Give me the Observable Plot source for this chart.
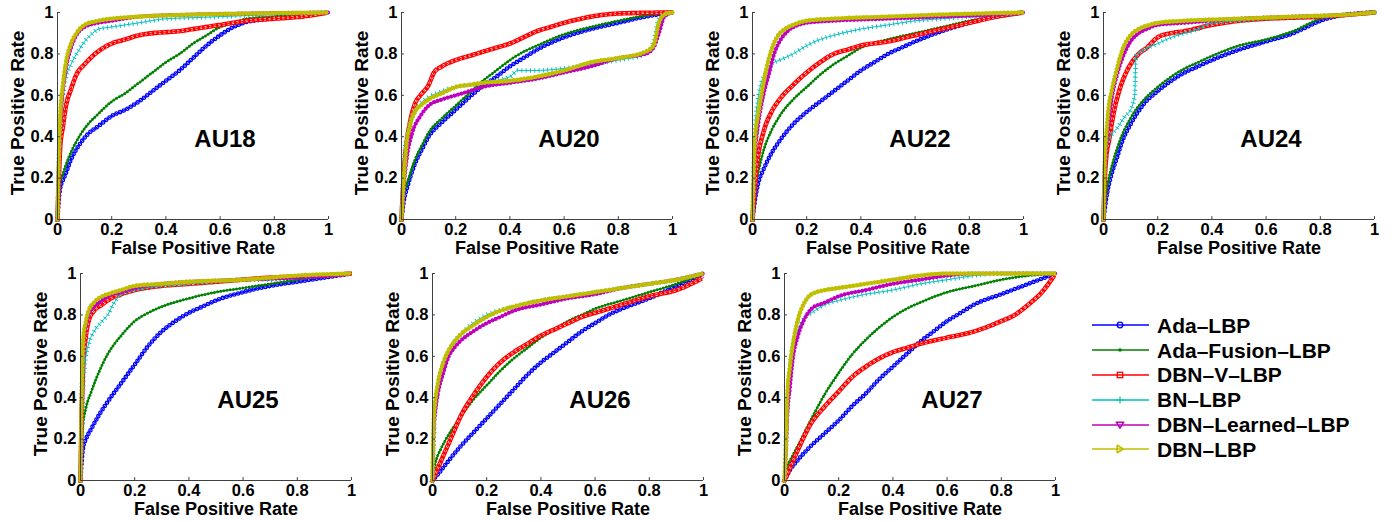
<!DOCTYPE html>
<html><head><meta charset="utf-8">
<script src="https://cdn.jsdelivr.net/npm/d3@7"></script>
<script src="https://cdn.jsdelivr.net/npm/@observablehq/plot@0.6"></script>
<style>
body{margin:0;background:#fff;}
#fig{position:relative;width:1398px;height:522px;overflow:hidden;background:#fff;font-family:"Liberation Sans",Arial,Helvetica,sans-serif;font-weight:bold;}
.panel{position:absolute;width:345px;height:265px;}
#legend{position:absolute;left:1090px;top:313px;}
.lrow{display:flex;align-items:center;height:24.8px;}
.lrow span{margin-left:7px;font-size:21px;font-weight:bold;color:#000;line-height:1;}
</style></head><body><div id="fig"><div id="legend"></div></div>
<script>
// ---------- data ----------
const seriesNames = ["Ada–LBP","Ada–Fusion–LBP","DBN–V–LBP","BN–LBP","DBN–Learned–LBP","DBN–LBP"];
const seriesColors = ["#0000ff","#008000","#ff0000","#00bfbf","#bf00bf","#bfbf00"];
const panelTitles = ["AU18","AU20","AU22","AU24","AU25","AU26","AU27"];
const xTicks = [0,0.2,0.4,0.6,0.8,1];
const yTicks = [0,0.2,0.4,0.6,0.8,1];
const tickLabels = ["0","0.2","0.4","0.6","0.8","1"];
const xLabel = "False Positive Rate";
const yLabel = "True Positive Rate";

const au18_ada = [[0,0],[0.005,0.1],[0.01,0.15],[0.02,0.19],[0.03,0.22],[0.05,0.29],[0.08,0.36],[0.11,0.41],[0.15,0.45],[0.2,0.5],[0.25,0.53],[0.3,0.57],[0.35,0.62],[0.4,0.67],[0.45,0.72],[0.5,0.78],[0.55,0.84],[0.6,0.89],[0.65,0.93],[0.7,0.955],[0.75,0.965],[0.8,0.975],[0.9,0.99],[1,1]];
const au18_fusion = [[0,0],[0.005,0.12],[0.01,0.18],[0.02,0.22],[0.03,0.26],[0.055,0.34],[0.08,0.4],[0.1,0.44],[0.15,0.51],[0.2,0.57],[0.25,0.61],[0.3,0.66],[0.35,0.71],[0.4,0.76],[0.45,0.8],[0.5,0.85],[0.55,0.89],[0.6,0.93],[0.65,0.95],[0.7,0.97],[0.8,0.98],[0.9,0.99],[1,1]];
const au18_dbnv = [[0,0],[0.005,0.2],[0.01,0.35],[0.02,0.45],[0.03,0.54],[0.05,0.63],[0.07,0.7],[0.1,0.75],[0.13,0.79],[0.17,0.83],[0.2,0.85],[0.25,0.87],[0.3,0.89],[0.35,0.9],[0.4,0.905],[0.45,0.91],[0.5,0.92],[0.6,0.94],[0.7,0.96],[0.8,0.97],[0.9,0.98],[1,1]];
const au18_bn = [[0,0],[0.005,0.3],[0.01,0.45],[0.02,0.6],[0.03,0.68],[0.05,0.75],[0.08,0.82],[0.1,0.86],[0.13,0.9],[0.15,0.92],[0.2,0.93],[0.3,0.95],[0.4,0.97],[0.5,0.975],[0.6,0.98],[0.8,0.99],[1,1]];
const au18_learned = [[0,0],[0.005,0.25],[0.01,0.45],[0.02,0.62],[0.03,0.72],[0.05,0.83],[0.07,0.89],[0.1,0.93],[0.15,0.95],[0.2,0.96],[0.3,0.98],[0.5,0.99],[0.7,0.995],[1,1]];
const au18_dbn = [[0,0],[0.005,0.3],[0.01,0.5],[0.02,0.65],[0.03,0.75],[0.05,0.85],[0.07,0.9],[0.1,0.94],[0.15,0.96],[0.2,0.97],[0.3,0.98],[0.5,0.99],[0.7,0.995],[1,1]];

const au20_ada = [[0,0],[0.01,0.1],[0.02,0.15],[0.05,0.27],[0.08,0.35],[0.1,0.4],[0.15,0.47],[0.2,0.53],[0.25,0.59],[0.3,0.645],[0.35,0.69],[0.4,0.74],[0.45,0.78],[0.5,0.82],[0.6,0.88],[0.7,0.92],[0.8,0.95],[0.9,0.98],[1,1]];
const au20_fusion = [[0,0],[0.01,0.13],[0.02,0.17],[0.05,0.29],[0.08,0.37],[0.1,0.42],[0.15,0.49],[0.2,0.55],[0.25,0.61],[0.3,0.67],[0.35,0.72],[0.4,0.77],[0.45,0.81],[0.5,0.84],[0.6,0.895],[0.7,0.93],[0.8,0.96],[0.9,0.985],[1,1]];
const au20_dbnv = [[0,0],[0.01,0.25],[0.02,0.38],[0.03,0.46],[0.05,0.56],[0.07,0.6],[0.1,0.65],[0.12,0.71],[0.15,0.74],[0.2,0.77],[0.25,0.79],[0.3,0.81],[0.35,0.83],[0.4,0.85],[0.45,0.88],[0.5,0.91],[0.55,0.93],[0.6,0.95],[0.7,0.98],[0.8,0.995],[1,1]];
const au20_bn = [[0,0],[0.01,0.3],[0.02,0.4],[0.04,0.5],[0.07,0.56],[0.1,0.59],[0.15,0.62],[0.2,0.64],[0.3,0.66],[0.4,0.69],[0.43,0.72],[0.5,0.72],[0.6,0.73],[0.7,0.75],[0.8,0.77],[0.9,0.8],[0.93,0.86],[0.95,0.97],[0.97,0.99],[1,1]];
const au20_learned = [[0,0],[0.01,0.18],[0.02,0.3],[0.04,0.42],[0.07,0.5],[0.1,0.55],[0.15,0.58],[0.2,0.6],[0.25,0.62],[0.3,0.64],[0.4,0.66],[0.5,0.68],[0.6,0.71],[0.7,0.74],[0.8,0.78],[0.9,0.8],[0.93,0.83],[0.95,0.9],[0.97,0.98],[1,1]];
const au20_dbn = [[0,0],[0.01,0.22],[0.02,0.38],[0.03,0.45],[0.05,0.52],[0.08,0.56],[0.1,0.58],[0.15,0.61],[0.2,0.64],[0.25,0.65],[0.3,0.66],[0.4,0.67],[0.5,0.69],[0.6,0.72],[0.7,0.76],[0.8,0.78],[0.9,0.81],[0.93,0.84],[0.95,0.95],[0.97,0.99],[1,1]];

const au22_ada = [[0,0],[0.01,0.1],[0.02,0.17],[0.04,0.24],[0.07,0.32],[0.1,0.38],[0.15,0.46],[0.2,0.52],[0.25,0.57],[0.3,0.62],[0.35,0.67],[0.4,0.72],[0.45,0.76],[0.5,0.8],[0.55,0.83],[0.6,0.86],[0.7,0.91],[0.8,0.95],[0.9,0.98],[1,1]];
const au22_fusion = [[0,0],[0.01,0.15],[0.02,0.22],[0.04,0.33],[0.07,0.43],[0.1,0.5],[0.15,0.58],[0.2,0.64],[0.25,0.7],[0.3,0.75],[0.35,0.79],[0.4,0.83],[0.5,0.87],[0.6,0.9],[0.7,0.93],[0.8,0.96],[0.9,0.98],[1,1]];
const au22_dbnv = [[0,0],[0.01,0.18],[0.02,0.3],[0.04,0.42],[0.07,0.52],[0.1,0.58],[0.15,0.65],[0.2,0.71],[0.25,0.76],[0.3,0.8],[0.35,0.82],[0.4,0.84],[0.5,0.86],[0.6,0.89],[0.7,0.92],[0.8,0.95],[0.9,0.98],[1,1]];
const au22_bn = [[0,0],[0.005,0.3],[0.01,0.45],[0.02,0.58],[0.03,0.65],[0.05,0.71],[0.07,0.75],[0.1,0.77],[0.15,0.8],[0.2,0.84],[0.25,0.87],[0.3,0.89],[0.4,0.92],[0.5,0.94],[0.6,0.96],[0.7,0.97],[0.8,0.98],[0.9,0.99],[1,1]];
const au22_learned = [[0,0],[0.005,0.2],[0.01,0.33],[0.02,0.45],[0.04,0.6],[0.06,0.7],[0.08,0.8],[0.1,0.86],[0.13,0.91],[0.17,0.94],[0.2,0.95],[0.3,0.96],[0.5,0.97],[0.7,0.98],[0.9,0.99],[1,1]];
const au22_dbn = [[0,0],[0.005,0.25],[0.01,0.4],[0.02,0.5],[0.03,0.58],[0.05,0.72],[0.07,0.82],[0.09,0.88],[0.12,0.92],[0.15,0.94],[0.2,0.96],[0.3,0.97],[0.5,0.98],[0.7,0.99],[1,1]];

const au24_ada = [[0,0],[0.01,0.1],[0.02,0.17],[0.03,0.22],[0.05,0.3],[0.07,0.38],[0.1,0.46],[0.15,0.56],[0.2,0.62],[0.25,0.67],[0.3,0.71],[0.35,0.74],[0.4,0.77],[0.5,0.82],[0.6,0.86],[0.7,0.9],[0.75,0.93],[0.8,0.96],[0.9,0.99],[1,1]];
const au24_fusion = [[0,0],[0.01,0.13],[0.02,0.2],[0.04,0.3],[0.06,0.38],[0.1,0.49],[0.15,0.58],[0.2,0.64],[0.25,0.69],[0.3,0.73],[0.35,0.76],[0.4,0.79],[0.5,0.84],[0.6,0.87],[0.7,0.91],[0.8,0.97],[0.9,0.99],[1,1]];
const au24_dbnv = [[0,0],[0.005,0.2],[0.01,0.3],[0.02,0.38],[0.04,0.53],[0.06,0.63],[0.08,0.7],[0.1,0.75],[0.13,0.8],[0.16,0.83],[0.2,0.88],[0.25,0.9],[0.3,0.91],[0.4,0.94],[0.5,0.96],[0.6,0.97],[0.8,0.98],[1,1]];
const au24_bn = [[0,0],[0.005,0.25],[0.01,0.35],[0.03,0.41],[0.05,0.44],[0.08,0.5],[0.1,0.53],[0.115,0.6],[0.12,0.79],[0.15,0.82],[0.2,0.85],[0.25,0.88],[0.3,0.9],[0.35,0.92],[0.4,0.95],[0.5,0.96],[0.6,0.97],[0.8,0.98],[1,1]];
const au24_learned = [[0,0],[0.005,0.25],[0.01,0.35],[0.02,0.48],[0.03,0.58],[0.05,0.7],[0.07,0.78],[0.1,0.86],[0.13,0.9],[0.16,0.92],[0.2,0.94],[0.3,0.95],[0.5,0.97],[0.7,0.98],[0.9,0.99],[1,1]];
const au24_dbn = [[0,0],[0.005,0.3],[0.01,0.4],[0.02,0.55],[0.03,0.62],[0.05,0.73],[0.07,0.82],[0.1,0.89],[0.13,0.92],[0.17,0.94],[0.2,0.95],[0.3,0.96],[0.5,0.97],[0.7,0.98],[0.9,0.99],[1,1]];

const au25_ada = [[0,0],[0.005,0.1],[0.01,0.16],[0.02,0.2],[0.04,0.25],[0.07,0.32],[0.1,0.38],[0.15,0.47],[0.2,0.56],[0.25,0.65],[0.3,0.72],[0.35,0.77],[0.4,0.81],[0.45,0.84],[0.5,0.87],[0.6,0.91],[0.7,0.94],[0.8,0.96],[0.9,0.98],[1,1]];
const au25_fusion = [[0,0],[0.005,0.2],[0.01,0.28],[0.02,0.35],[0.04,0.43],[0.07,0.53],[0.1,0.61],[0.15,0.7],[0.2,0.77],[0.25,0.81],[0.3,0.84],[0.4,0.88],[0.5,0.91],[0.6,0.93],[0.7,0.95],[0.8,0.97],[0.9,0.99],[1,1]];
const au25_dbnv = [[0,0],[0.005,0.35],[0.01,0.55],[0.02,0.7],[0.03,0.77],[0.05,0.82],[0.08,0.85],[0.1,0.87],[0.15,0.9],[0.2,0.92],[0.3,0.94],[0.4,0.95],[0.5,0.96],[0.7,0.98],[0.9,0.99],[1,1]];
const au25_bn = [[0,0],[0.005,0.2],[0.01,0.45],[0.02,0.6],[0.03,0.66],[0.05,0.72],[0.08,0.77],[0.1,0.8],[0.12,0.85],[0.15,0.9],[0.2,0.92],[0.3,0.94],[0.4,0.95],[0.5,0.96],[0.6,0.97],[0.7,0.97],[0.8,0.98],[0.9,0.99],[1,1]];
const au25_learned = [[0,0],[0.005,0.45],[0.01,0.65],[0.02,0.75],[0.03,0.8],[0.05,0.84],[0.08,0.87],[0.1,0.89],[0.15,0.91],[0.2,0.93],[0.3,0.95],[0.4,0.96],[0.6,0.97],[0.8,0.98],[1,1]];
const au25_dbn = [[0,0],[0.005,0.45],[0.01,0.68],[0.02,0.77],[0.03,0.82],[0.05,0.86],[0.08,0.89],[0.1,0.9],[0.15,0.92],[0.2,0.94],[0.3,0.95],[0.4,0.96],[0.6,0.97],[0.8,0.99],[1,1]];

const au26_ada = [[0,0],[0.02,0.03],[0.05,0.08],[0.1,0.16],[0.15,0.23],[0.2,0.3],[0.25,0.37],[0.3,0.44],[0.35,0.51],[0.4,0.57],[0.45,0.62],[0.5,0.67],[0.55,0.72],[0.6,0.76],[0.65,0.8],[0.7,0.83],[0.8,0.88],[0.9,0.94],[1,1]];
const au26_fusion = [[0,0],[0.01,0.08],[0.03,0.15],[0.05,0.2],[0.1,0.3],[0.15,0.39],[0.2,0.46],[0.25,0.53],[0.3,0.59],[0.35,0.64],[0.4,0.69],[0.45,0.73],[0.5,0.77],[0.55,0.8],[0.6,0.83],[0.7,0.87],[0.8,0.91],[0.9,0.95],[1,1]];
const au26_dbnv = [[0,0],[0.02,0.06],[0.05,0.15],[0.08,0.24],[0.1,0.3],[0.15,0.41],[0.2,0.5],[0.25,0.57],[0.3,0.62],[0.35,0.66],[0.4,0.7],[0.45,0.73],[0.5,0.76],[0.55,0.79],[0.6,0.81],[0.7,0.85],[0.8,0.89],[0.9,0.92],[1,0.98]];
const au26_bn = [[0,0],[0.005,0.2],[0.01,0.35],[0.02,0.45],[0.04,0.55],[0.06,0.62],[0.08,0.67],[0.1,0.7],[0.15,0.76],[0.2,0.8],[0.3,0.84],[0.4,0.87],[0.5,0.89],[0.6,0.91],[0.7,0.93],[0.8,0.95],[0.9,0.97],[1,1]];
const au26_learned = [[0,0],[0.005,0.25],[0.01,0.33],[0.02,0.42],[0.04,0.52],[0.06,0.6],[0.08,0.64],[0.1,0.67],[0.15,0.72],[0.2,0.76],[0.25,0.79],[0.3,0.82],[0.4,0.85],[0.5,0.88],[0.6,0.9],[0.7,0.93],[0.8,0.95],[0.9,0.97],[1,1]];
const au26_dbn = [[0,0],[0.005,0.3],[0.01,0.38],[0.02,0.47],[0.04,0.57],[0.06,0.63],[0.08,0.67],[0.1,0.7],[0.15,0.75],[0.2,0.79],[0.25,0.82],[0.3,0.84],[0.4,0.87],[0.5,0.89],[0.6,0.91],[0.7,0.93],[0.8,0.95],[0.9,0.97],[1,1]];

const au27_ada = [[0,0],[0.02,0.05],[0.05,0.1],[0.1,0.17],[0.15,0.23],[0.2,0.29],[0.25,0.36],[0.3,0.42],[0.35,0.49],[0.4,0.55],[0.45,0.61],[0.5,0.67],[0.55,0.72],[0.6,0.77],[0.65,0.81],[0.7,0.85],[0.8,0.9],[0.9,0.95],[1,1]];
const au27_fusion = [[0,0],[0.01,0.06],[0.03,0.12],[0.05,0.17],[0.1,0.3],[0.15,0.42],[0.2,0.52],[0.25,0.61],[0.3,0.68],[0.35,0.74],[0.4,0.79],[0.45,0.83],[0.5,0.86],[0.6,0.91],[0.7,0.94],[0.8,0.97],[0.9,0.99],[1,1]];
const au27_dbnv = [[0,0],[0.02,0.06],[0.05,0.15],[0.1,0.28],[0.15,0.36],[0.2,0.43],[0.25,0.5],[0.3,0.55],[0.35,0.59],[0.4,0.62],[0.45,0.64],[0.5,0.66],[0.6,0.69],[0.7,0.72],[0.8,0.77],[0.85,0.8],[0.9,0.85],[0.95,0.91],[1,1]];
const au27_bn = [[0,0],[0.005,0.2],[0.01,0.35],[0.02,0.55],[0.03,0.65],[0.05,0.73],[0.07,0.78],[0.1,0.81],[0.15,0.85],[0.2,0.87],[0.3,0.9],[0.4,0.92],[0.5,0.95],[0.6,0.97],[0.7,0.99],[0.8,1],[1,1]];
const au27_learned = [[0,0],[0.005,0.12],[0.01,0.3],[0.02,0.45],[0.03,0.58],[0.05,0.7],[0.07,0.77],[0.1,0.83],[0.15,0.86],[0.2,0.89],[0.3,0.92],[0.4,0.95],[0.5,0.97],[0.6,0.99],[0.7,1],[1,1]];
const au27_dbn = [[0,0],[0.005,0.15],[0.01,0.4],[0.02,0.55],[0.03,0.65],[0.05,0.78],[0.07,0.85],[0.1,0.9],[0.15,0.92],[0.2,0.93],[0.3,0.95],[0.4,0.97],[0.5,0.99],[0.6,1],[1,1]];

const panelCurves = [
  [au18_ada, au18_fusion, au18_dbnv, au18_bn, au18_learned, au18_dbn],
  [au20_ada, au20_fusion, au20_dbnv, au20_bn, au20_learned, au20_dbn],
  [au22_ada, au22_fusion, au22_dbnv, au22_bn, au22_learned, au22_dbn],
  [au24_ada, au24_fusion, au24_dbnv, au24_bn, au24_learned, au24_dbn],
  [au25_ada, au25_fusion, au25_dbnv, au25_bn, au25_learned, au25_dbn],
  [au26_ada, au26_fusion, au26_dbnv, au26_bn, au26_learned, au26_dbn],
  [au27_ada, au27_fusion, au27_dbnv, au27_bn, au27_learned, au27_dbn]
];

// ---------- layout / style ----------
const FONT = '"Liberation Sans", Arial, Helvetica, sans-serif';
const ML = 60, MR = 14, MT = 12, MB = 46, PW = 345, PH = 265;
const frameOrigins = [[57,11.7],[401,11.7],[752,11.7],[1103,11.7],[80,272.5],[431.7,272.5],[784,272.5]];
const AX = "#404040";

function curveMarks(data, k) {
  const c = seriesColors[k];
  const o = {x: d => d[0], y: d => d[1], curve: "monotone-x"};
  switch (k) {
    case 0: return [
      Plot.line(data, {...o, stroke: c, strokeWidth: 4.6, strokeDasharray: "0 4", strokeLinecap: "round"}),
      Plot.line(data, {...o, stroke: "#ffffff", strokeWidth: 2, strokeDasharray: "0 4", strokeLinecap: "round"}),
      Plot.line(data, {...o, stroke: c, strokeWidth: 1})];
    case 1: return [
      Plot.line(data, {...o, stroke: c, strokeWidth: 1.2}),
      Plot.line(data, {...o, stroke: c, strokeWidth: 3, strokeDasharray: "0 3.2", strokeLinecap: "round"})];
    case 2: return [
      Plot.line(data, {...o, stroke: c, strokeWidth: 4.6, strokeDasharray: "0.01 4.6", strokeLinecap: "square"}),
      Plot.line(data, {...o, stroke: "#ffffff", strokeWidth: 2.2, strokeDasharray: "0.01 4.6", strokeLinecap: "square"}),
      Plot.line(data, {...o, stroke: c, strokeWidth: 1})];
    case 3: return [
      Plot.line(data, {...o, stroke: c, strokeWidth: 1}),
      Plot.line(data, {...o, stroke: c, strokeWidth: 4.6, strokeDasharray: "0.9 3.4", strokeLinecap: "butt"})];
    default: return [
      Plot.line(data, {...o, stroke: c, strokeWidth: 1}),
      Plot.line(data, {...o, stroke: c, strokeWidth: k === 4 ? 4.2 : 4.6, strokeDasharray: "0 3.6", strokeLinecap: "round"})];
  }
}

function makePanel(p) {
  const marks = [];
  panelCurves[p].forEach((data, k) => marks.push(...curveMarks(data, k)));
  marks.push(
    Plot.ruleY([0], {stroke: AX, strokeWidth: 1}),
    Plot.ruleX([0], {stroke: AX, strokeWidth: 1}),
    Plot.ruleX(xTicks.slice(1), {x: d => d, y1: 0, y2: 0.014, stroke: AX}),
    Plot.ruleY(yTicks.slice(1), {y: d => d, x1: 0, x2: 0.011, stroke: AX}),
    Plot.text(xTicks, {x: d => d, frameAnchor: "bottom", textAnchor: "middle", lineAnchor: "middle", dy: 10, text: (d, i) => tickLabels[i], fontSize: 16.5, fontWeight: "bold", fill: "#000"}),
    Plot.text(yTicks, {y: d => d, frameAnchor: "left", textAnchor: "end", lineAnchor: "middle", dx: -4, text: (d, i) => tickLabels[i], fontSize: 16.5, fontWeight: "bold", fill: "#000"}),
    Plot.text([xLabel], {frameAnchor: "bottom", textAnchor: "middle", lineAnchor: "middle", dy: 29, text: d => d, fontSize: 18, fontWeight: "bold", fill: "#000"}),
    Plot.text([yLabel], {frameAnchor: "left", textAnchor: "middle", lineAnchor: "middle", dx: -40, dy: -3, rotate: -90, text: d => d, fontSize: 19, fontWeight: "bold", fill: "#000"}),
    Plot.text([panelTitles[p]], {frameAnchor: "middle", textAnchor: "middle", lineAnchor: "middle", dx: 32, dy: 23, text: d => d, fontSize: 24, fontWeight: "bold", fill: "#000"})
  );
  return Plot.plot({
    width: PW, height: PH,
    marginLeft: ML, marginRight: MR, marginTop: MT, marginBottom: MB,
    x: {domain: [0, 1], axis: null},
    y: {domain: [0, 1], axis: null},
    style: {fontFamily: FONT, fontWeight: "bold", background: "transparent", overflow: "visible"},
    marks
  });
}

const fig = document.getElementById("fig");
panelTitles.forEach((t, p) => {
  const div = document.createElement("div");
  div.className = "panel";
  div.style.left = (frameOrigins[p][0] - ML) + "px";
  div.style.top = (frameOrigins[p][1] - MT) + "px";
  div.appendChild(makePanel(p));
  fig.appendChild(div);
});

// ---------- legend ----------
const markerSvg = [
  c => `<circle cx="30" cy="10" r="2.8" fill="none" stroke="${c}" stroke-width="1.3"/>`,
  c => `<circle cx="30" cy="10" r="1.8" fill="${c}"/>`,
  c => `<rect x="27.3" y="7.3" width="5.4" height="5.4" fill="none" stroke="${c}" stroke-width="1.3"/>`,
  c => `<path d="M26.5,10H33.5M30,6.5V13.5" stroke="${c}" stroke-width="1.2"/>`,
  c => `<path d="M26.3,7.2H33.7L30,13.2Z" fill="none" stroke="${c}" stroke-width="1.6" stroke-linejoin="round"/>`,
  c => `<path d="M27.2,6.3L33.2,10L27.2,13.7Z" fill="none" stroke="${c}" stroke-width="1.6" stroke-linejoin="round"/>`
];
const legend = document.getElementById("legend");
seriesNames.forEach((name, k) => {
  const c = seriesColors[k];
  const row = document.createElement("div");
  row.className = "lrow";
  row.innerHTML = `<svg width="60" height="20" style="display:block"><line x1="2" y1="10" x2="59" y2="10" stroke="${c}" stroke-width="1.3"/>${markerSvg[k](c)}</svg><span>${name}</span>`;
  legend.appendChild(row);
});
</script></body></html>
